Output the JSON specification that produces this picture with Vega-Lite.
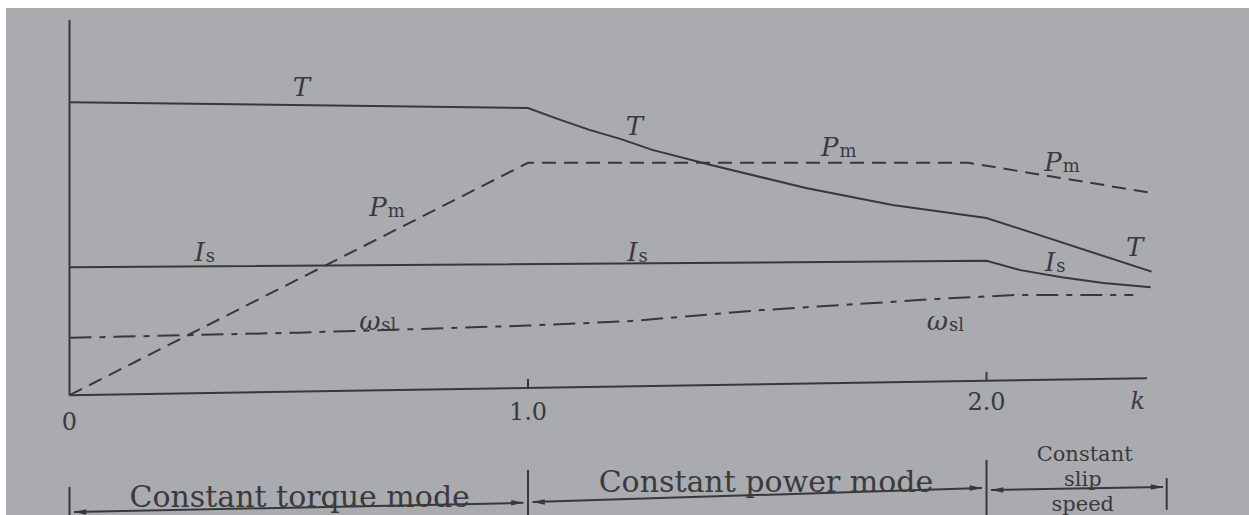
{
  "$schema": "https://vega.github.io/schema/vega-lite/v6.json",
  "width": 1243,
  "height": 507,
  "autosize": "none",
  "padding": {"left": 6, "top": 8, "right": 0, "bottom": 0},
  "background": "#ffffff",
  "config": {
    "view": {"stroke": null, "fill": "#a9abae"},
    "text": {"font": "DejaVu Serif", "color": "#3a3a3d"}
  },
  "datasets": {
    "curves": [
      {"series": "T", "k": 0, "v": 77.8},
      {"series": "T", "k": 1.0, "v": 76.2},
      {"series": "T", "k": 1.066, "v": 73.2},
      {"series": "T", "k": 1.134, "v": 70.3},
      {"series": "T", "k": 1.203, "v": 67.8},
      {"series": "T", "k": 1.271, "v": 64.9},
      {"series": "T", "k": 1.399, "v": 60.8},
      {"series": "T", "k": 1.606, "v": 54.6},
      {"series": "T", "k": 1.795, "v": 50.0},
      {"series": "T", "k": 2.0, "v": 46.5},
      {"series": "T", "k": 2.36, "v": 32.0},
      {"series": "Is", "k": 0, "v": 33.2},
      {"series": "Is", "k": 2.0, "v": 34.9},
      {"series": "Is", "k": 2.074, "v": 32.4},
      {"series": "Is", "k": 2.164, "v": 30.5},
      {"series": "Is", "k": 2.255, "v": 28.9},
      {"series": "Is", "k": 2.358, "v": 27.8},
      {"series": "Pm", "k": 0, "v": -1.4},
      {"series": "Pm", "k": 1.0, "v": 61.4},
      {"series": "Pm", "k": 1.96, "v": 61.4},
      {"series": "Pm", "k": 2.364, "v": 53.2},
      {"series": "wsl", "k": 0, "v": 14.1},
      {"series": "wsl", "k": 0.5, "v": 15.5},
      {"series": "wsl", "k": 1.0, "v": 17.4},
      {"series": "wsl", "k": 1.22, "v": 18.6},
      {"series": "wsl", "k": 1.51, "v": 21.6},
      {"series": "wsl", "k": 1.89, "v": 24.6},
      {"series": "wsl", "k": 2.07, "v": 25.7},
      {"series": "wsl", "k": 2.32, "v": 25.7}
    ],
    "frame": [
      {"part": "y axis", "k": 0, "v": -1.4, "k2": 0, "v2": 100},
      {"part": "x axis", "k": 0, "v": -1.4, "k2": 2.35, "v2": 3.2},
      {"part": "tick 1.0", "k": 1, "v": 0.6, "k2": 1, "v2": 3.0},
      {"part": "tick 2.0", "k": 2, "v": 2.5, "k2": 2, "v2": 4.9},
      {"part": "bar 0", "k": 0, "v": -26.2, "k2": 0, "v2": -34},
      {"part": "bar 1", "k": 1, "v": -21.6, "k2": 1, "v2": -34},
      {"part": "bar 2", "k": 2, "v": -18.9, "k2": 2, "v2": -34},
      {"part": "bar end", "k": 2.393, "v": -23.8, "k2": 2.393, "v2": -32.4},
      {"part": "torque span", "k": 0.01, "v": -33.0, "k2": 0.99, "v2": -30.5},
      {"part": "power span", "k": 1.01, "v": -30.3, "k2": 1.99, "v2": -26.5},
      {"part": "slip span", "k": 2.01, "v": -27.0, "k2": 2.385, "v2": -26.2}
    ],
    "heads": [
      {"dir": "left", "k": 0.01, "v": -33.0},
      {"dir": "right", "k": 0.99, "v": -30.5},
      {"dir": "left", "k": 1.01, "v": -30.3},
      {"dir": "right", "k": 1.99, "v": -26.5},
      {"dir": "left", "k": 2.01, "v": -27.0},
      {"dir": "right", "k": 2.385, "v": -26.2}
    ],
    "symbols": [
      {"k": 0.506, "v": 81.6, "main": "T"},
      {"k": 1.232, "v": 71.1, "main": "T"},
      {"k": 2.323, "v": 38.4, "main": "T"}
    ],
    "subscripted": [
      {"k": 0.692, "v": 49.2, "main": "P", "sub": "m"},
      {"k": 1.677, "v": 65.4, "main": "P", "sub": "m"},
      {"k": 2.164, "v": 61.4, "main": "P", "sub": "m"},
      {"k": 0.295, "v": 37.0, "main": "I", "sub": "s"},
      {"k": 1.239, "v": 37.0, "main": "I", "sub": "s"},
      {"k": 2.15, "v": 34.3, "main": "I", "sub": "s"},
      {"k": 0.678, "v": 18.4, "main": "ω", "sub": "sl"},
      {"k": 1.916, "v": 18.4, "main": "ω", "sub": "sl"}
    ],
    "ticklabels": [
      {"k": 0, "v": -9.0, "text": "0"},
      {"k": 1, "v": -6.2, "text": "1.0"},
      {"k": 2, "v": -3.6, "text": "2.0"}
    ],
    "varname": [
      {"k": 2.33, "v": -3.2, "text": "k"}
    ],
    "modes": [
      {"k": 0.502, "v": -29.2, "text": "Constant torque mode", "size": "large"},
      {"k": 1.519, "v": -25.1, "text": "Constant power mode", "size": "large"},
      {"k": 2.214, "v": -17.6, "text": "Constant", "size": "small"},
      {"k": 2.21, "v": -24.3, "text": "slip", "size": "small"},
      {"k": 2.21, "v": -31.1, "text": "speed", "size": "small"}
    ]
  },
  "encoding": {
    "x": {"field": "k", "type": "quantitative", "axis": null,
          "scale": {"domain": [-0.1385, 2.5725], "nice": false, "zero": false}},
    "y": {"field": "v", "type": "quantitative", "axis": null,
          "scale": {"domain": [-33.784, 103.243], "nice": false, "zero": false}}
  },
  "layer": [
    {
      "data": {"name": "frame"},
      "mark": {"type": "rule", "color": "#38383c", "strokeWidth": 2},
      "encoding": {
        "x2": {"field": "k2"},
        "y2": {"field": "v2"}
      }
    },
    {
      "data": {"name": "heads"},
      "transform": [{"filter": "datum.dir === 'right'"}],
      "mark": {"type": "point", "shape": "M0,0L-2,-0.45L-2,0.45Z", "filled": true,
               "color": "#38383c", "opacity": 1, "size": 150}
    },
    {
      "data": {"name": "heads"},
      "transform": [{"filter": "datum.dir === 'left'"}],
      "mark": {"type": "point", "shape": "M0,0L2,-0.45L2,0.45Z", "filled": true,
               "color": "#38383c", "opacity": 1, "size": 150}
    },
    {
      "data": {"name": "curves"},
      "transform": [{"filter": "datum.series === 'T' || datum.series === 'Is'"}],
      "mark": {"type": "line", "color": "#38383c", "strokeWidth": 2},
      "encoding": {"detail": {"field": "series"}}
    },
    {
      "data": {"name": "curves"},
      "transform": [{"filter": "datum.series === 'Pm'"}],
      "mark": {"type": "line", "color": "#38383c", "strokeWidth": 2, "strokeDash": [14, 8]}
    },
    {
      "data": {"name": "curves"},
      "transform": [{"filter": "datum.series === 'wsl'"}],
      "mark": {"type": "line", "color": "#38383c", "strokeWidth": 2, "strokeDash": [22, 8, 6, 8]}
    },
    {
      "data": {"name": "symbols"},
      "mark": {"type": "text", "fontSize": 26, "fontStyle": "italic", "align": "center"},
      "encoding": {"text": {"field": "main"}}
    },
    {
      "data": {"name": "subscripted"},
      "mark": {"type": "text", "fontSize": 26, "fontStyle": "italic", "align": "right"},
      "encoding": {"text": {"field": "main"}}
    },
    {
      "data": {"name": "subscripted"},
      "mark": {"type": "text", "fontSize": 18, "align": "left", "dx": 1, "dy": 4},
      "encoding": {"text": {"field": "sub"}}
    },
    {
      "data": {"name": "ticklabels"},
      "mark": {"type": "text", "fontSize": 24, "align": "center"},
      "encoding": {"text": {"field": "text"}}
    },
    {
      "data": {"name": "varname"},
      "mark": {"type": "text", "fontSize": 24, "fontStyle": "italic", "align": "center"},
      "encoding": {"text": {"field": "text"}}
    },
    {
      "data": {"name": "modes"},
      "transform": [{"filter": "datum.size === 'large'"}],
      "mark": {"type": "text", "fontSize": 30, "align": "center"},
      "encoding": {"text": {"field": "text"}}
    },
    {
      "data": {"name": "modes"},
      "transform": [{"filter": "datum.size === 'small'"}],
      "mark": {"type": "text", "fontSize": 21, "align": "center"},
      "encoding": {"text": {"field": "text"}}
    }
  ]
}
